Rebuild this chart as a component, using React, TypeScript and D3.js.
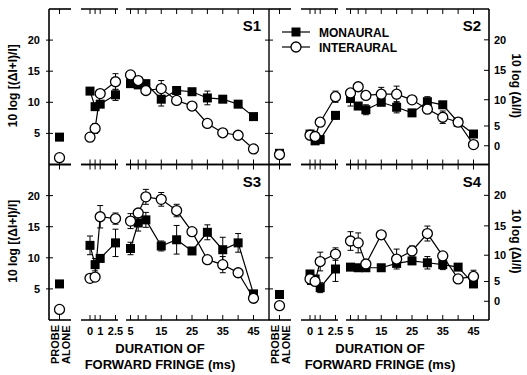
import React from 'react';
import * as d3 from 'd3';

// condition order: probe alone, 0, 0.5, 1, 2.5 ms, then 5 .. 45 ms
const earlyTimes = [0, 0.5, 1, 2.5];
const lateTimes = [5, 7.5, 10, 15, 20, 25, 30, 35, 40, 45];
const earlyLabels = [0, 1, 2.5];
const lateLabels = [5, 15, 25, 35, 45];
const leftTicks = [5, 10, 15, 20];
const rightTicks = [0, 5, 10, 15, 20];

const s1Mono = [4.4, 11.8, 9.3, 9.7, 11.2, 13.0, 12.8, 13.0, 10.5, 11.9, 11.7, 10.7, 10.5, 9.7, 7.7];
const s1MonoErr = [0, 0.5, 0, 0, 0.9, 0, 0, 0, 1.1, 0, 0, 1.1, 0, 0, 0];
const s1Inter = [1.1, 4.4, 5.8, 11.4, 13.3, 14.4, 13.5, 11.9, 12.2, 10.3, 9.4, 6.6, 5.1, 4.7, 2.5];
const s1InterErr = [0, 0, 0.8, 0, 1.3, 0, 0, 0, 1.3, 0, 0, 0, 0, 0, 0];

const s2Mono = [1.8, 4.9, 3.8, 4.0, 7.9, 10.6, 9.4, 8.8, 10.0, 9.2, 8.3, 10.1, 9.6, 6.8, 4.9];
const s2MonoErr = [0, 0, 0, 0, 0.6, 1.2, 0, 0.8, 0, 0.9, 0, 0.8, 0, 0, 0];
const s2Inter = [1.6, 4.7, 4.5, 6.8, 10.9, 11.5, 12.5, 11.1, 11.3, 11.3, 10.4, 8.9, 7.6, 6.8, 3.2];
const s2InterErr = [0.7, 0, 0, 0, 0.9, 0, 0.6, 0, 1.1, 1.3, 0, 0, 1.0, 0, 0];

const s3Mono = [5.8, 12.0, 8.9, 9.9, 12.4, 11.5, 15.6, 16.1, 11.9, 12.9, 11.1, 14.1, 11.3, 12.4, 4.2];
const s3MonoErr = [0, 1.5, 1.0, 0, 2.2, 1.0, 1.3, 1.2, 0.8, 2.3, 0, 1.2, 2.0, 1.5, 0];
const s3Inter = [1.7, 6.7, 6.9, 16.6, 16.3, 15.9, 17.2, 19.8, 19.4, 17.6, 14.2, 9.7, 8.9, 7.6, 3.5];
const s3InterErr = [0, 0, 0, 1.8, 0.9, 1.2, 0, 1.2, 1.1, 1.0, 0, 0, 1.3, 0, 0];

const s4Mono = [4.1, 7.4, 6.6, 5.2, 8.2, 8.5, 8.4, 8.4, 8.4, 9.1, 9.5, 9.2, 8.9, 8.5, 5.8];
const s4MonoErr = [0, 0, 0, 0.8, 2.0, 0, 0, 0, 0, 0, 0, 1.0, 0.8, 0, 0];
const s4Inter = [2.3, 6.6, 6.2, 9.4, 10.6, 12.7, 12.4, 9.0, 13.7, 9.8, 11.1, 13.9, 10.3, 6.6, 7.0];
const s4InterErr = [0, 0.9, 0, 1.5, 1.0, 1.5, 1.6, 0, 0, 1.6, 0.8, 1.2, 0, 0, 1.0];

const W = 527;
const H = 375;
const panelW = 220;
const panelH = 155.5;
const colX = [49, 269];
const rowY = [9, 164.5];
const FONT = 'Liberation Sans, Arial, sans-serif';

const probeX = 10.5;
const xEarly = d3.scaleLinear().domain([0, 2.5]).range([41, 66.5]);
const xLate = d3.scaleLinear().domain([5, 45]).range([81.5, 204.5]);
const y = d3.scaleLinear().domain([0, 25]).range([panelH, 0]);
// right axis: 10 log(dI/I) mapped onto 10 log((dI+I)/I)
const yRight = (r: number) => y(10 * Math.log10(1 + Math.pow(10, r / 10)));

const segments = [[0, 22], [32, 69], [77, panelW]];

const xOf = (i: number) =>
  i === 0 ? probeX : i <= 4 ? xEarly(earlyTimes[i - 1]) : xLate(lateTimes[i - 5]);

const line = d3.line<number>().x((_, i) => 0).y(d => d);

function Series({ vals, errs, filled }: { vals: number[]; errs: number[]; filled: boolean }) {
  const pts = vals.map((v, i) => [xOf(i), y(v)] as [number, number]);
  const path = d3.line();
  return (
    <g>
      <path d={path(pts.slice(1, 5)) || ''} fill="none" stroke="#000" strokeWidth={1.2} />
      <path d={path(pts.slice(5)) || ''} fill="none" stroke="#000" strokeWidth={1.2} />
      {vals.map((v, i) =>
        errs[i] > 0 ? (
          <g key={'e' + i} stroke="#000" strokeWidth={1}>
            <line x1={pts[i][0]} x2={pts[i][0]} y1={y(v + errs[i])} y2={y(v - errs[i])} />
            <line x1={pts[i][0] - 3} x2={pts[i][0] + 3} y1={y(v + errs[i])} y2={y(v + errs[i])} />
            <line x1={pts[i][0] - 3} x2={pts[i][0] + 3} y1={y(v - errs[i])} y2={y(v - errs[i])} />
          </g>
        ) : null
      )}
      {pts.map(([px, py], i) =>
        filled ? (
          <rect key={i} x={px - 4.5} y={py - 4.5} width={9} height={9} fill="#000" />
        ) : (
          <circle key={i} cx={px} cy={py} r={5} fill="#fff" stroke="#000" strokeWidth={1.3} />
        )
      )}
    </g>
  );
}

function XAxis({ yPos, dir }: { yPos: number; dir: number }) {
  const ticks = [probeX, ...earlyTimes.map(xEarly), ...lateTimes.map(xLate)];
  return (
    <g stroke="#000">
      {segments.map(([a, b], i) => (
        <line key={i} x1={a} x2={b} y1={yPos} y2={yPos} strokeWidth={1.6} />
      ))}
      {ticks.map((t, i) => (
        <line key={'t' + i} x1={t} x2={t} y1={yPos} y2={yPos + dir * 5} strokeWidth={1} />
      ))}
    </g>
  );
}

function Panel({ col, row, label, mono, monoErr, inter, interErr }: any) {
  return (
    <g transform={`translate(${colX[col]},${rowY[row]})`}>
      <XAxis yPos={0} dir={1} />
      <XAxis yPos={panelH} dir={-1} />
      <Series vals={mono} errs={monoErr} filled={true} />
      <Series vals={inter} errs={interErr} filled={false} />
      <text x={panelW - 8} y={22} textAnchor="end" fontFamily={FONT} fontWeight="bold" fontSize={15}>
        {label}
      </text>
    </g>
  );
}

function XLabels({ x0 }: { x0: number }) {
  const base = rowY[1] + panelH;
  return (
    <g fontFamily={FONT} fontWeight="bold" fontSize={11} transform={`translate(${x0},0)`}>
      {earlyLabels.map(t => (
        <text key={'a' + t} x={xEarly(t)} y={base + 15} textAnchor="middle">{t}</text>
      ))}
      {lateLabels.map(t => (
        <text key={'b' + t} x={xLate(t)} y={base + 15} textAnchor="middle">{t}</text>
      ))}
      <text transform={`translate(${probeX},${base + 44}) rotate(-90)`} textAnchor="start" x={0} y={-1}>PROBE</text>
      <text transform={`translate(${probeX + 11},${base + 44}) rotate(-90)`} textAnchor="start" x={0} y={-1}>ALONE</text>
      <text x={111} y={base + 33} textAnchor="middle" fontSize={13}>DURATION OF</text>
      <text x={111} y={base + 49} textAnchor="middle" fontSize={13}>FORWARD FRINGE (ms)</text>
    </g>
  );
}

export default function App() {
  const left = colX[0];
  const mid = colX[1];
  const right = colX[1] + panelW;
  const top = rowY[0];
  const bottom = rowY[1] + panelH;
  return (
    <svg width={W} height={H} style={{ position: 'absolute', left: 0, top: 0, background: '#fff' }}>
      <Panel col={0} row={0} label="S1" mono={s1Mono} monoErr={s1MonoErr} inter={s1Inter} interErr={s1InterErr} />
      <Panel col={1} row={0} label="S2" mono={s2Mono} monoErr={s2MonoErr} inter={s2Inter} interErr={s2InterErr} />
      <Panel col={0} row={1} label="S3" mono={s3Mono} monoErr={s3MonoErr} inter={s3Inter} interErr={s3InterErr} />
      <Panel col={1} row={1} label="S4" mono={s4Mono} monoErr={s4MonoErr} inter={s4Inter} interErr={s4InterErr} />

      {/* vertical axes */}
      <g stroke="#000">
        <line x1={left} x2={left} y1={top} y2={bottom} strokeWidth={1.6} />
        <line x1={mid} x2={mid} y1={top} y2={bottom} strokeWidth={1.4} />
        <line x1={right} x2={right} y1={top} y2={bottom} strokeWidth={1.6} />
        {rowY.map(ry =>
          leftTicks.map(t => (
            <g key={ry + '-' + t}>
              <line x1={left - 3} x2={left + 4} y1={ry + y(t)} y2={ry + y(t)} />
              <line x1={mid - 4} x2={mid + 4} y1={ry + y(t)} y2={ry + y(t)} />
            </g>
          ))
        )}
        {rowY.map(ry =>
          rightTicks.map(t => (
            <line key={'r' + ry + t} x1={right - 5} x2={right} y1={ry + yRight(t)} y2={ry + yRight(t)} />
          ))
        )}
      </g>

      {/* tick labels */}
      <g fontFamily={FONT} fontWeight="bold" fontSize={11}>
        {rowY.map(ry =>
          leftTicks.map(t => (
            <text key={'lt' + ry + t} x={left - 9} y={ry + y(t) + 4} textAnchor="end">{t}</text>
          ))
        )}
        {rowY.map(ry =>
          rightTicks.map(t => (
            <text key={'rt' + ry + t} x={right + 5} y={ry + yRight(t) + 4} textAnchor="start">{t}</text>
          ))
        )}
      </g>

      {/* axis titles */}
      <g fontFamily={FONT} fontWeight="bold" fontSize={12}>
        {rowY.map(ry => (
          <text key={'yl' + ry} transform={`translate(17,${ry + panelH / 2 - 1}) rotate(-90)`} textAnchor="middle">
            10 log [(ΔI+I)/I]
          </text>
        ))}
        {rowY.map(ry => (
          <text key={'yr' + ry} transform={`translate(512,${ry + panelH / 2 - 1}) rotate(90)`} textAnchor="middle">
            10 log (ΔI/I)
          </text>
        ))}
      </g>

      <XLabels x0={colX[0]} />
      <XLabels x0={colX[1]} />

      {/* legend */}
      <g transform="translate(282,32)">
        <line x1={0} x2={28} y1={0} y2={0} stroke="#000" strokeWidth={1.2} />
        <rect x={9.5} y={-4.5} width={9} height={9} fill="#000" />
        <line x1={0} x2={28} y1={15} y2={15} stroke="#000" strokeWidth={1.2} />
        <circle cx={14} cy={15} r={5} fill="#fff" stroke="#000" strokeWidth={1.3} />
        <text x={37} y={4.5} fontFamily={FONT} fontWeight="bold" fontSize={12}>MONAURAL</text>
        <text x={37} y={19.5} fontFamily={FONT} fontWeight="bold" fontSize={12}>INTERAURAL</text>
      </g>
    </svg>
  );
}
